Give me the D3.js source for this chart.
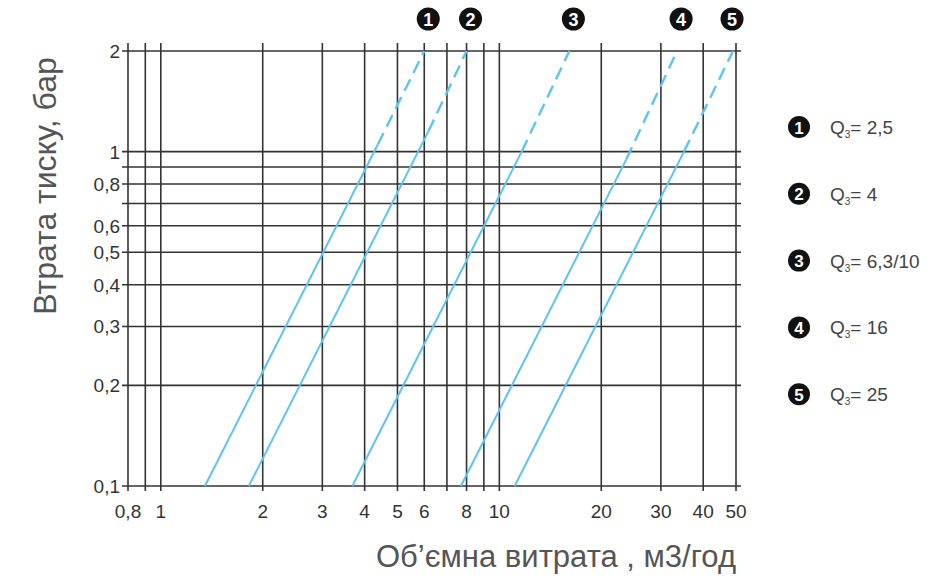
<!DOCTYPE html>
<html>
<head>
<meta charset="utf-8">
<script src="https://cdn.jsdelivr.net/npm/d3@7"></script>
<style>
	body { margin: 0; background: #fff; font-family: "Liberation Sans", Arial, sans-serif; }
</style>
</head>
<body>
<svg id="graphic" width="938" height="587"></svg>
<script>
// grid lines
const xGrid = [0.8, 0.9, 1, 2, 3, 4, 5, 6, 7, 8, 9, 10, 20, 30, 40, 50];
const yGrid = [0.1, 0.2, 0.3, 0.4, 0.5, 0.6, 0.7, 0.8, 0.9, 1, 2];
const xTickLabels = [0.8, 1, 2, 3, 4, 5, 6, 8, 10, 20, 30, 40, 50];
const yTickLabels = [0.1, 0.2, 0.3, 0.4, 0.5, 0.6, 0.8, 1, 2];

// meter curves: flow at 0.1 bar, flow at 2 bar, pressure where the dashed part starts
const meterIds = ['1', '2', '3', '4', '5'];
const meterLabels = ['2,5', '4', '6,3/10', '16', '25'];
const flowAtLow = [1.35, 1.82, 3.68, 7.7, 11.1];
const flowAtHigh = [6.0, 8.0, 16.1, 33.5, 49];
const dashFrom = [1.05, 1.15, 1.0, 0.95, 1.0];

const svg = d3.select('#graphic');
const x = d3.scaleLog().domain([0.8, 50]).range([128, 736]);
const y = d3.scaleLog().domain([0.1, 2]).range([486, 51]);
const fmt = (d) => String(d).replace('.', ',');

// vertical grid
svg.append('g')
	.selectAll('line')
	.data(xGrid)
	.join('line')
	.attr('x1', (d) => x(d)).attr('x2', (d) => x(d))
	.attr('y1', y(2) - 8).attr('y2', y(0.1) + 5)
	.attr('stroke', '#333').attr('stroke-width', 1.6);

// horizontal grid
svg.append('g')
	.selectAll('line')
	.data(yGrid)
	.join('line')
	.attr('x1', x(0.8) - 6).attr('x2', x(50) + 5)
	.attr('y1', (d) => y(d)).attr('y2', (d) => y(d))
	.attr('stroke', '#333').attr('stroke-width', 1.6);

// tick labels
svg.append('g')
	.selectAll('text')
	.data(xTickLabels)
	.join('text')
	.attr('x', (d) => x(d)).attr('y', 518)
	.attr('text-anchor', 'middle')
	.attr('font-size', 19).attr('fill', '#333')
	.text(fmt);

svg.append('g')
	.selectAll('text')
	.data(yTickLabels)
	.join('text')
	.attr('x', x(0.8) - 8).attr('y', (d) => y(d) + 7)
	.attr('text-anchor', 'end')
	.attr('font-size', 19).attr('fill', '#333')
	.text(fmt);

// curves: dp ~ Q^2, solid below dashFrom, dashed above
const flowAt = (i, p) => flowAtLow[i] * Math.sqrt(p / 0.1);
const curves = svg.append('g');
meterIds.forEach((id, i) => {
	const pd = dashFrom[i];
	curves.append('line')
		.attr('x1', x(flowAtLow[i])).attr('y1', y(0.1))
		.attr('x2', x(flowAt(i, pd))).attr('y2', y(pd))
		.attr('stroke', '#5cc4f0').attr('stroke-width', 2);
	curves.append('line')
		.attr('x1', x(flowAt(i, pd))).attr('y1', y(pd))
		.attr('x2', x(flowAtHigh[i])).attr('y2', y(2))
		.attr('stroke', '#5cc4f0').attr('stroke-width', 2.4)
		.attr('stroke-dasharray', '13,7');
});

// numbered markers above the curves
const markers = svg.append('g')
	.selectAll('g')
	.data(meterIds)
	.join('g')
	.attr('transform', (d, i) => 'translate(' + (x(flowAtHigh[i]) + (i === 4 ? -1 : 4)) + ',19)');
markers.append('circle').attr('r', 11.5).attr('fill', '#111');
markers.append('text')
	.attr('y', 6.5).attr('text-anchor', 'middle')
	.attr('font-size', 18).attr('font-weight', 'bold').attr('fill', '#fff')
	.text((d) => d);

// legend
const legend = svg.append('g')
	.selectAll('g')
	.data(meterIds)
	.join('g')
	.attr('transform', (d, i) => 'translate(799,' + (127 + i * 66.8) + ')');
legend.append('circle').attr('r', 11).attr('fill', '#111');
legend.append('text')
	.attr('y', 6.5).attr('text-anchor', 'middle')
	.attr('font-size', 17).attr('font-weight', 'bold').attr('fill', '#fff')
	.text((d) => d);
const lt = legend.append('text')
	.attr('x', 31).attr('y', 7)
	.attr('font-size', 19).attr('fill', '#444');
lt.append('tspan').text('Q');
lt.append('tspan').attr('font-size', 10).attr('dy', 4).text('3');
lt.append('tspan').attr('dy', -4).text((d, i) => '= ' + meterLabels[i]);

// axis titles
svg.append('text')
	.attr('x', 556).attr('y', 567)
	.attr('text-anchor', 'middle')
	.attr('font-size', 31).attr('fill', '#555')
	.text('Об\u2019ємна витрата , м3/год');

svg.append('text')
	.attr('transform', 'translate(56,186) rotate(-90)')
	.attr('text-anchor', 'middle')
	.attr('font-size', 32).attr('fill', '#555')
	.text('Втрата тиску, бар');
</script>
</body>
</html>
